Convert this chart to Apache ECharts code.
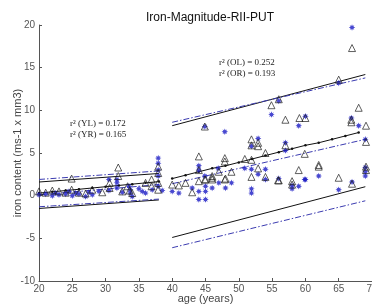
<!DOCTYPE html>
<html>
<head>
<meta charset="utf-8">
<script src="https://cdn.jsdelivr.net/npm/echarts@6/dist/echarts.min.js"></script>
<style>
  html, body { margin: 0; padding: 0; background: #fff; }
  #chart { width: 372px; height: 305px; }
</style>
</head>
<body>
<div id="chart"></div>
<script>
// scatter points: [age, iron content]
var starPts = [
  // young
  [20, 0.1], [21, 0.2], [22, 0.0], [22.5, 0.3], [23, 0.1], [24, 0.2], [24.5, 0.5], [25, 0.0],
  [25.5, 0.3], [26, 0.2], [27, -0.1], [27.5, 0.4], [28, 0.1], [29, 0.5], [30.5, 1.9], [30.5, 0.6],
  [31.7, 1.9], [31.7, 1.5], [31.7, 0.9], [32.5, 0.4], [33.5, 1.1], [33.7, 0.7], [33.7, 0.3],
  [34, -0.1], [35, 0.8], [35.5, 0.5], [36, 0.3], [37, 0.7], [37.9, 4.4], [37.9, 3.8], [37.9, 3.0],
  [37.9, 2.3], [37.9, 1.1], [38.5, 0.6],
  // old
  [67.0, 19.7], [65.0, 13.2], [56.0, 11.1], [54.9, 9.5], [44.9, 8.1], [47.9, 7.5], [59.0, 8.2],
  [60.0, 9.3], [66.9, 9.1], [68.0, 8.2], [69.0, 6.6], [52.9, 6.7], [51.9, 5.8], [57.0, 6.2],
  [57.0, 5.3], [44.0, 3.5], [44.0, 3.0], [62.0, 2.3], [59.9, 1.9], [65.0, 0.7], [67.0, 1.6],
  [69.0, 3.3], [69.0, 2.8], [69.0, 2.3], [50.9, 3.2], [51.9, 3.1], [52.9, 2.5], [54.0, 3.1],
  [54.0, 1.9], [56.0, 2.0], [58.0, 1.2], [58.0, 0.8], [59.0, 1.1], [60.0, 1.9], [51.9, 0.8],
  [51.9, 0.3], [46.9, 3.2], [44.9, 2.3], [48.0, 0.9], [48.9, 1.5], [40.0, 0.5], [41.0, 0.3],
  [44.0, 0.5], [45.0, 0.5], [45.0, 1.1], [46.0, 0.9], [44.0, -0.45], [45.0, -0.45], [43.0, 0.9],
  [47.0, 1.5]
];
var trianglePts = [
  // young
  [20, 0.5], [21, 0.35], [22, 0.6], [23, 0.5], [24, 0.35], [24.9, 0.7], [24.9, 2.0], [26, 0.35],
  [27, 0.25], [28, 0.7], [29.5, 0.4], [30.6, 1.5], [30.6, 0.9], [31.9, 3.3], [31.9, 2.3],
  [32.5, 0.5], [33.3, 1.1], [33.6, 0.6], [34, 0.3], [36, 1.5], [36.9, 1.9], [36.9, 1.1],
  [37.9, 3.4], [37.9, 2.65], [37.9, 1.5], [37.9, 0.7],
  // old
  [67.0, 17.3], [65.0, 13.6], [68.0, 10.3], [66.9, 8.9], [66.9, 8.6], [69.1, 8.2], [69.1, 6.3],
  [60.0, 9.1], [59.1, 9.1], [59.9, 4.9], [62.0, 3.6], [62.0, 3.4], [65.0, 2.1], [67.0, 1.4],
  [69.1, 3.4], [69.1, 3.0], [56.0, 11.3], [54.9, 10.6], [57.0, 8.9], [51.9, 6.6], [51.9, 5.9],
  [52.9, 6.2], [52.9, 5.8], [54.0, 5.0], [57.0, 5.9], [50.9, 4.3], [51.9, 4.2], [52.9, 3.2],
  [51.9, 2.2], [54.0, 2.2], [56.0, 1.8], [58.0, 1.7], [58.0, 1.3], [59.0, 3.0], [44.9, 8.1],
  [44.0, 4.6], [47.9, 4.4], [47.9, 4.0], [44.0, 3.0], [44.9, 1.9], [46.0, 2.3], [46.0, 1.9],
  [47.0, 2.8], [48.9, 2.8], [47.9, 1.9], [40.0, 1.3], [41.0, 1.2], [42.0, 1.5], [43.0, 0.4],
  [44.0, 1.7], [45.0, 1.9], [46.0, 2.1], [48.0, 2.0], [55.9, 1.8]
];

// regression lines (black, dotted markers) read at every 2 years
var youngLAges = [20, 22, 24, 26, 28, 30, 32, 34, 36, 38];
var youngLVals = [0.3, 0.45, 0.6, 0.75, 0.9, 1.05, 1.2, 1.35, 1.5, 1.65];
var oldLAges = [40, 42, 44, 46, 48, 50, 52, 54, 56, 58, 60, 62, 64, 66, 68];
var oldLVals = [2.0, 2.4, 2.8, 3.2, 3.5, 3.9, 4.3, 4.7, 5.1, 5.5, 5.9, 6.2, 6.6, 7.0, 7.4];

// right-side regression (blue dash-dot) and confidence bounds: [start, end]
var youngR = [[20, 0.1], [38, 1.3]];
var oldR = [[40, 1.4], [69, 6.6]];
var youngUpL = [[20, 1.6], [38, 2.6]];
var youngUpR = [[20, 1.9], [38, 2.9]];
var youngLoL = [[20, -1.5], [38, -0.5]];
var youngLoR = [[20, -1.3], [38, -0.4]];
var oldUpL = [[40, 8.2], [69, 14.2]];
var oldUpR = [[40, 8.6], [69, 13.8]];
var oldLoL = [[40, -4.9], [69, 1.05]];
var oldLoR = [[40, -6.1], [69, -0.6]];

var r2Young = ['r\u00B2 (YL) = 0.172', 'r\u00B2 (YR) = 0.165'];
var r2Old = ['r\u00B2 (OL) = 0.252', 'r\u00B2 (OR) = 0.193'];

var BLUE = '#1a1ac4';
var starPath = 'path://M0,-10 L2.2,-4.5 L7,-7 L4.5,-2.2 L10,0 L4.5,2.2 L7,7 L2.2,4.5 L0,10 L-2.2,4.5 L-7,7 L-4.5,2.2 L-10,0 L-4.5,-2.2 L-7,-7 L-2.2,-4.5 Z';

function zip(a, b) {
  var out = [];
  for (var i = 0; i < a.length; i++) out.push([a[i], b[i]]);
  return out;
}
function solid(data) {
  return { type: 'line', data: data, showSymbol: false, silent: true, z: 3,
    lineStyle: { color: '#111', width: 1 } };
}
function dashdot(data) {
  return { type: 'line', data: data, showSymbol: false, silent: true, z: 3,
    lineStyle: { color: '#3b3bb0', width: 1, type: [6, 2, 1.5, 2] } };
}
function dotted(data) {
  return { type: 'line', data: data, symbol: 'circle', symbolSize: 2.5, silent: true, z: 4,
    itemStyle: { color: '#111' }, lineStyle: { color: '#111', width: 1 } };
}

var chart = echarts.init(document.getElementById('chart'));
var option = {
  animation: false,
  title: {
    text: 'Iron-Magnitude-RII-PUT', left: 205, top: 7, textAlign: 'center',
    textStyle: { fontFamily: 'Liberation Sans', fontSize: 12, fontWeight: 'normal', color: '#111' }
  },
  grid: { left: 39, right: 0, top: 25, bottom: 24, outerBoundsMode: 'none' },
  xAxis: {
    type: 'value', min: 20, max: 70, interval: 5,
    name: 'age (years)', nameLocation: 'middle', nameGap: 12, nameMoveOverlap: false,
    nameTextStyle: { fontFamily: 'Liberation Sans', fontSize: 11, color: '#444' },
    axisLine: { onZero: false, lineStyle: { color: '#555' } },
    axisTick: { inside: true, length: 3, lineStyle: { color: '#555' } },
    axisLabel: { fontFamily: 'Liberation Sans', fontSize: 10, color: '#555', margin: 3 },
    splitLine: { show: false }
  },
  yAxis: {
    type: 'value', min: -10, max: 20, interval: 5,
    name: 'iron content (ms-1 x mm3)', nameLocation: 'middle', nameGap: 16, nameMoveOverlap: false,
    nameTextStyle: { fontFamily: 'Liberation Sans', fontSize: 11, color: '#444' },
    axisLine: { show: true, onZero: false, lineStyle: { color: '#555' } },
    axisTick: { show: true, inside: true, length: 3, lineStyle: { color: '#555' } },
    axisLabel: { fontFamily: 'Liberation Sans', fontSize: 10, color: '#555', margin: 4 },
    splitLine: { show: false }
  },
  series: [
    solid(youngUpL), dashdot(youngUpR), solid(youngLoL), dashdot(youngLoR),
    solid(oldUpL), dashdot(oldUpR), solid(oldLoL), dashdot(oldLoR),
    dashdot(youngR), dashdot(oldR),
    dotted(zip(youngLAges, youngLVals)), dotted(zip(oldLAges, oldLVals)),
    { type: 'scatter', data: starPts, symbol: starPath, symbolSize: 6.5, z: 5,
      itemStyle: { color: BLUE } },
    { type: 'scatter', data: trianglePts, symbol: 'triangle', symbolSize: 7, z: 6,
      itemStyle: { color: 'rgba(255,255,255,0)', borderColor: '#222', borderWidth: 0.9 } }
  ],
  graphic: [
    { type: 'text', left: 70, top: 118,
      style: { text: r2Young.join('\n'), font: '9px "Liberation Serif"', fill: '#222', lineHeight: 11 } },
    { type: 'text', left: 219, top: 57,
      style: { text: r2Old.join('\n'), font: '9px "Liberation Serif"', fill: '#222', lineHeight: 11 } }
  ]
};
chart.setOption(option);
</script>
</body>
</html>
